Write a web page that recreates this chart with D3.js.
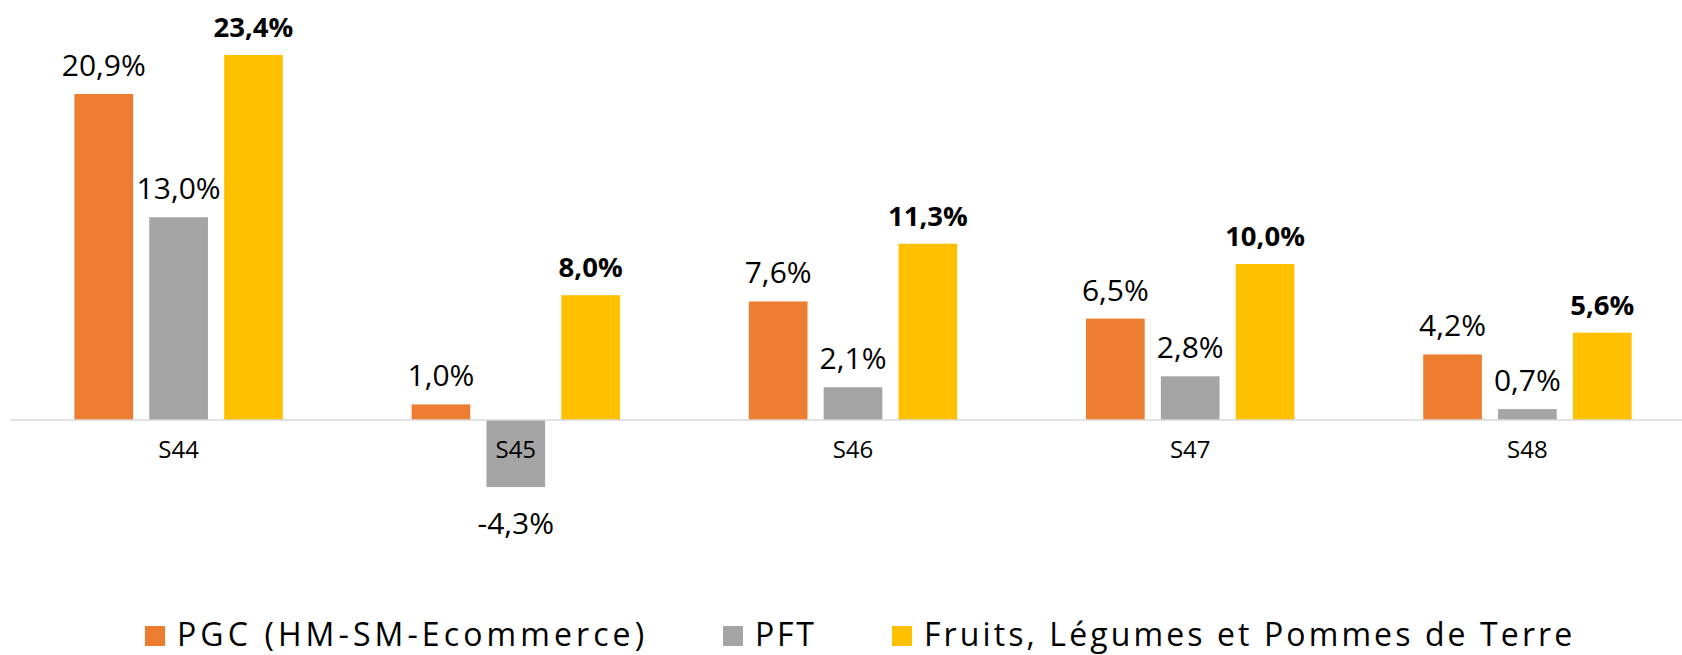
<!DOCTYPE html>
<html>
<head>
<meta charset="utf-8">
<script src="https://cdn.jsdelivr.net/npm/d3@7"></script>
<style>
    body { margin: 0; background: #fff; }
    svg { display: block; font-family: "Open Sans", sans-serif; }
</style>
</head>
<body>
<div id="chart"></div>
<script>
var weeks = ["S44", "S45", "S46", "S47", "S48"];
var seriesNames = ["PGC (HM-SM-Ecommerce)", "PFT", "Fruits, Légumes et Pommes de Terre"];
var pgcValues = [20.9, 1.0, 7.6, 6.5, 4.2];
var pftValues = [13.0, -4.3, 2.1, 2.8, 0.7];
var fruitsValues = [23.4, 8.0, 11.3, 10.0, 5.6];
var colors = ["#ED7D31", "#A5A5A5", "#FFC000"];
var boldLabel = [false, false, true];

var width = 1682,
    height = 655;

// one row per week, one cell per serie
var rows = weeks.map(function(w, i) {
    return {
        week: w,
        values: [pgcValues[i], pftValues[i], fruitsValues[i]]
    };
});

// french style: comma decimal, plain hyphen for negatives
var formatPct = function(v) {
    return v.toFixed(1).replace(".", ",") + "%";
};

var svg = d3.select("#chart")
    .append("svg")
    .attr("width", width)
    .attr("height", height);

////////// scales //////////

var x0 = d3.scaleBand()
    .domain(weeks)
    .range([10, 1696])
    .paddingInner(0.382)
    .paddingOuter(0.191);

var x1 = d3.scaleBand()
    .domain(d3.range(seriesNames.length))
    .range([0, x0.bandwidth()])
    .paddingInner(0.216);

var y = d3.scaleLinear()
    .domain([-5, 25])
    .range([498, 30]);

////////// bars //////////

var groups = svg.selectAll(".week")
    .data(rows)
    .enter()
    .append("g")
    .attr("class", "week")
    .attr("transform", function(d) {
        return "translate(" + x0(d.week) + ",0)";
    });

var cells = groups.selectAll(".cell")
    .data(function(d) {
        return d.values.map(function(v, k) { return { k: k, v: v }; });
    })
    .enter()
    .append("g")
    .attr("class", "cell");

cells.append("rect")
    .attr("x", function(d) { return x1(d.k); })
    .attr("y", function(d) { return y(Math.max(0, d.v)); })
    .attr("width", x1.bandwidth())
    .attr("height", function(d) { return Math.abs(y(d.v) - y(0)); })
    .attr("fill", function(d) { return colors[d.k]; });

// axis line (extends to the right edge like the original)
svg.append("line")
    .attr("x1", 10)
    .attr("x2", width)
    .attr("y1", y(0))
    .attr("y2", y(0))
    .attr("stroke", "#D9D9D9")
    .attr("stroke-width", 1.5);

cells.append("text")
    .attr("x", function(d) { return x1(d.k) + x1.bandwidth() / 2; })
    .attr("y", function(d) { return d.v >= 0 ? y(d.v) - 18 : y(d.v) + 47; })
    .attr("text-anchor", "middle")
    .attr("font-size", function(d) { return boldLabel[d.k] ? 27.5 : 30; })
    .attr("font-weight", function(d) { return boldLabel[d.k] ? 700 : 400; })
    .attr("fill", "#000")
    .text(function(d) { return formatPct(d.v); });

////////// x labels //////////

svg.append("g")
    .selectAll("text")
    .data(weeks)
    .enter()
    .append("text")
    .attr("x", function(d) { return x0(d) + x0.bandwidth() / 2; })
    .attr("y", 458)
    .attr("text-anchor", "middle")
    .attr("font-size", 24)
    .attr("fill", "#000")
    .text(function(d) { return d; });

////////// legend //////////

var legendX = [145, 723, 892];
var legendSpacing = [4.1, 2.8, 3.1];

var legend = svg.append("g")
    .attr("class", "legend")
    .selectAll("g")
    .data(seriesNames)
    .enter()
    .append("g")
    .attr("transform", function(d, i) {
        return "translate(" + legendX[i] + ",626)";
    });

legend.append("rect")
    .attr("width", 20)
    .attr("height", 20)
    .attr("fill", function(d, i) { return colors[i]; });

legend.append("text")
    .attr("x", 32)
    .attr("y", 20)
    .attr("font-size", 32)
    .attr("letter-spacing", function(d, i) { return legendSpacing[i]; })
    .attr("fill", "#000")
    .text(function(d) { return d; });
</script>
</body>
</html>
